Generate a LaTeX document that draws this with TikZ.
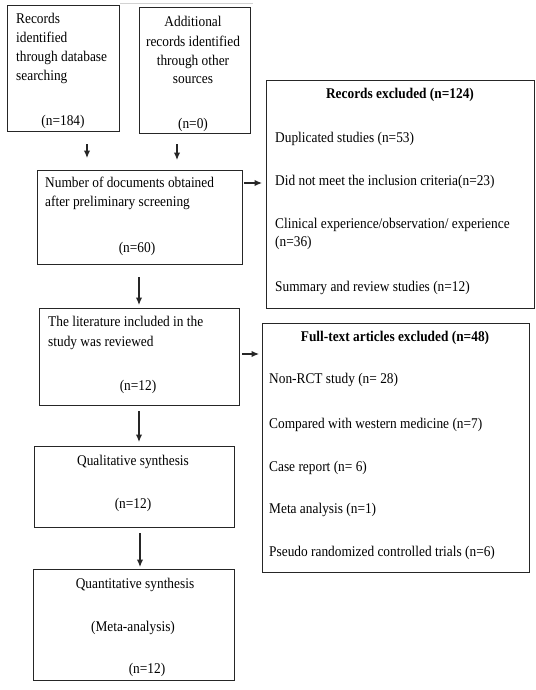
\documentclass[tikz,border=0pt]{standalone}
\usepackage{fontspec}
\setmainfont{Liberation Serif}[FakeStretch=0.9]
\usetikzlibrary{arrows.meta}
\begin{document}
\begin{tikzpicture}[x=1bp,y=-1bp,
  box/.style={draw=black!85, line width=1.4bp, inner sep=0, anchor=north west},
  txt/.style={font=\fontsize{14.9}{18}\selectfont, inner sep=0, text height=10.4bp, text depth=3.6bp},
  lt/.style={txt, anchor=west},
  ct/.style={txt, anchor=center},
  bt/.style={txt, anchor=center, font=\fontsize{14.9}{18}\selectfont\bfseries},
  arr/.style={line width=1.3bp, draw=black!85, -{Latex[length=7.5bp,width=6.5bp]}}]
\useasboundingbox[fill=white] (0,0) rectangle (536,690);
\draw[gray!35, line width=1bp] (120,4) -- (253,4);
% boxes
\node[box, minimum width=112bp, minimum height=126bp] (b1) at (7,5) {};
\node[box, minimum width=111bp, minimum height=126bp] (b2) at (139,7) {};
\node[box, minimum width=205bp, minimum height=94bp] (b3) at (37,170) {};
\node[box, minimum width=200bp, minimum height=97bp] (b4) at (39,308) {};
\node[box, minimum width=200bp, minimum height=81bp] (b5) at (34,446) {};
\node[box, minimum width=201bp, minimum height=111bp] (b6) at (33,569) {};
\node[box, minimum width=268bp, minimum height=228bp] (rex) at (266,80) {};
\node[box, minimum width=267bp, minimum height=249bp] (fte) at (262,323) {};
% box 1
\node[lt] (t1a) at (16,20) {Records};
\node[lt] (t1b) at (16,39) {identified};
\node[lt] (t1c) at (16,58) {through database};
\node[lt] (t1d) at (16,77) {searching};
\node[ct] (t1n) at (63,122) {(n=184)};
% box 2
\node[ct] (t2a) at (193,23) {Additional};
\node[ct] (t2b) at (193,43) {records identified};
\node[ct] (t2c) at (193,62) {through other};
\node[ct] (t2d) at (193,80) {sources};
\node[ct] (t2n) at (193,125) {(n=0)};
% box 3
\node[lt] (t3a) at (45,184) {Number of documents obtained};
\node[lt] (t3b) at (45,203) {after preliminary screening};
\node[ct] (t3n) at (137,249) {(n=60)};
% box 4
\node[lt] (t4a) at (48,323) {The literature included in the};
\node[lt] (t4b) at (48,343) {study was reviewed};
\node[ct] (t4n) at (138,387) {(n=12)};
% box 5
\node[ct] (t5a) at (133,462) {Qualitative synthesis};
\node[ct] (t5n) at (133,505) {(n=12)};
% box 6
\node[ct] (t6a) at (135,585) {Quantitative synthesis};
\node[ct] (t6b) at (133,628) {(Meta-analysis)};
\node[ct] (t6n) at (147,670) {(n=12)};
% records excluded
\node[bt] (rt) at (400,95) {Records excluded (n=124)};
\node[lt] (r1) at (275,139) {Duplicated studies (n=53)};
\node[lt] (r2) at (275,182) {Did not meet the inclusion criteria(n=23)};
\node[lt] (r3) at (275,225) {Clinical experience/observation/ experience};
\node[lt] (r3b) at (275,243) {(n=36)};
\node[lt] (r4) at (275,288) {Summary and review studies (n=12)};
% full-text excluded
\node[bt] (ft) at (395,338) {Full-text articles excluded (n=48)};
\node[lt] (f1) at (269,380) {Non-RCT study (n= 28)};
\node[lt] (f2) at (269,425) {Compared with western medicine (n=7)};
\node[lt] (f3) at (269,468) {Case report (n= 6)};
\node[lt] (f4) at (269,510) {Meta analysis (n=1)};
\node[lt] (f5) at (269,553) {Pseudo randomized controlled trials (n=6)};
% connectors
\coordinate (xa) at (87,0);
\coordinate (xb) at (177,0);
\coordinate (xc) at (139,0);
\coordinate (xd) at (139,0);
\coordinate (xe) at (140,0);
\coordinate (ya) at (0,183);
\coordinate (yb) at (0,354);
\draw[arr, shorten <=12bp, shorten >=12bp] (xa |- b1.south) -- (xa |- b3.north);
\draw[arr, shorten <=10bp, shorten >=10bp] (xb |- b2.south) -- (xb |- b3.north);
\draw[arr, shorten <=12bp, shorten >=3bp] (xc |- b3.south) -- (xc |- b4.north);
\draw[arr, shorten <=5bp, shorten >=4bp] (xd |- b4.south) -- (xd |- b5.north);
\draw[arr, shorten <=5bp, shorten >=2bp] (xe |- b5.south) -- (xe |- b6.north);
\draw[arr, shorten <=1bp, shorten >=4bp] (b3.east |- ya) -- (rex.west |- ya);
\draw[arr, shorten <=2bp, shorten >=3bp] (b4.east |- yb) -- (fte.west |- yb);
\end{tikzpicture}
\end{document}
